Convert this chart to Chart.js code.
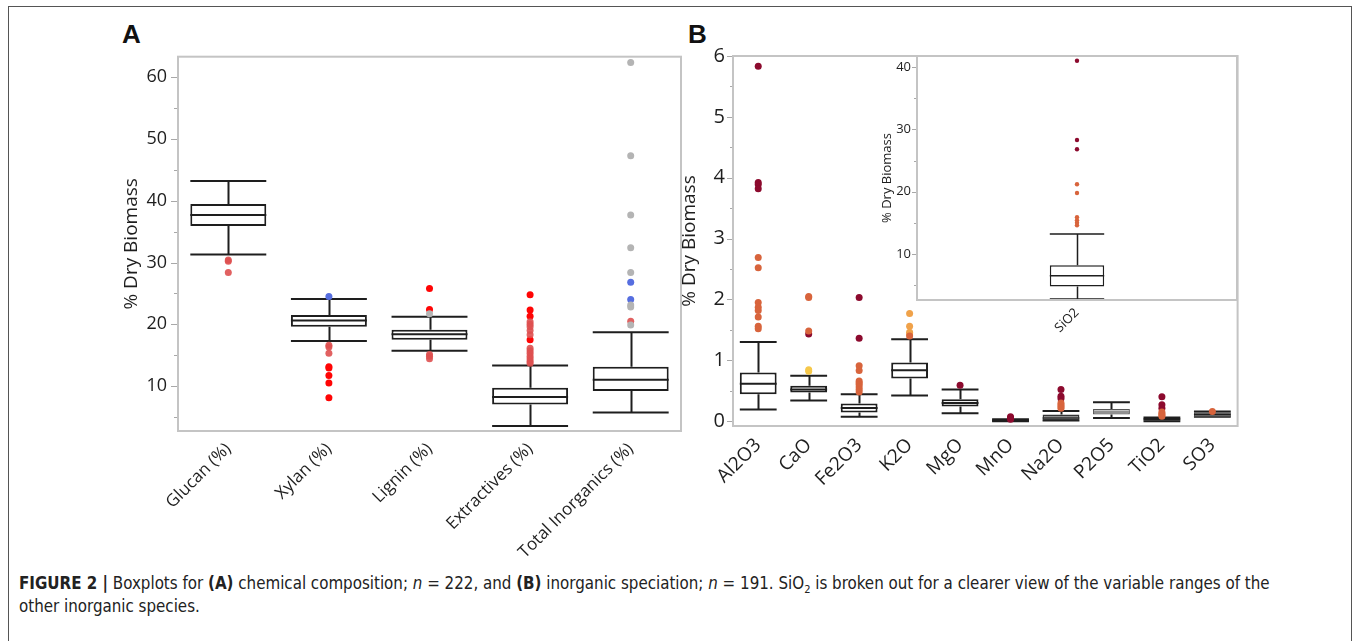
<!DOCTYPE html>
<html>
<head>
<meta charset="utf-8">
<script src="https://cdn.jsdelivr.net/npm/chart.js@4/dist/chart.umd.min.js"></script>
<style>
  html, body { margin: 0; padding: 0; background: #fff; }
  body { width: 1354px; height: 641px; position: relative; overflow: hidden; font-family: "Open Sans", sans-serif; }
  #frame { position: absolute; left: 8px; top: 6px; width: 1344px; height: 660px; border: 1px solid #555; box-sizing: border-box; }
  canvas { position: absolute; }
  .panel { position: absolute; font-family: "Liberation Sans", Arial, sans-serif; font-weight: bold; font-size: 26px; line-height: 26px; color: #111; }
  #caption { position: absolute; left: 19px; top: 572px; font-family: "Liberation Sans Narrow", "DejaVu Sans Condensed", sans-serif; font-size: 16.8px; line-height: 23px; color: #222; white-space: nowrap; }
  #caption sub { font-size: 11px; line-height: 0; }
</style>
</head>
<body>
<div id="frame"></div>
<div class="panel" style="left:122px; top:21px;">A</div>
<div class="panel" style="left:688px; top:21px;">B</div>
<canvas id="chartA" width="600" height="520" style="left:100px; top:40px;"></canvas>
<canvas id="chartB" width="620" height="520" style="left:660px; top:40px;"></canvas>
<canvas id="chartSi" width="400" height="300" style="left:860px; top:40px;"></canvas>
<div id="caption"><b>FIGURE 2 |</b> Boxplots for <b>(A)</b> chemical composition; <i>n</i> = 222, and <b>(B)</b> inorganic speciation; <i>n</i> = 191. SiO<sub>2</sub> is broken out for a clearer view of the variable ranges of the<br>other inorganic species.</div>

<script>
// ---- Panel A: chemical composition (% dry biomass) ----
const catsA = ['Glucan (%)', 'Xylan (%)', 'Lignin (%)', 'Extractives (%)', 'Total Inorganics (%)'];
const lowA  = [31.3, 17.3, 15.7, 3.5, 5.7];
const q1A   = [35.9, 19.6, 17.5, 7.0, 9.2];
const medA  = [37.7, 20.6, 18.4, 8.2, 11.0];
const q3A   = [39.5, 21.5, 19.1, 9.7, 13.1];
const highA = [43.2, 24.1, 21.2, 13.3, 18.7];
// outliers grouped by marker colour class
const outRedA = [['Xylan (%)', 13.1], ['Xylan (%)', 12.9], ['Xylan (%)', 11.7], ['Xylan (%)', 10.5], ['Xylan (%)', 8.1],
  ['Lignin (%)', 25.8], ['Lignin (%)', 22.4],
  ['Extractives (%)', 24.8], ['Extractives (%)', 22.3], ['Extractives (%)', 21.3], ['Extractives (%)', 17.5]];
const outPinkA = [['Glucan (%)', 30.4], ['Glucan (%)', 30.2], ['Glucan (%)', 28.4],
  ['Xylan (%)', 16.6], ['Xylan (%)', 16.3], ['Xylan (%)', 15.3],
  ['Lignin (%)', 15.1], ['Lignin (%)', 14.8], ['Lignin (%)', 14.4],
  ['Extractives (%)', 20.4], ['Extractives (%)', 20.0], ['Extractives (%)', 19.6], ['Extractives (%)', 19.0],
  ['Extractives (%)', 18.3], ['Extractives (%)', 16.1], ['Extractives (%)', 15.7], ['Extractives (%)', 15.3],
  ['Extractives (%)', 14.8], ['Extractives (%)', 14.4], ['Extractives (%)', 14.0], ['Extractives (%)', 13.7],
  ['Total Inorganics (%)', 20.5]];
const outBlueA = [['Xylan (%)', 24.5], ['Total Inorganics (%)', 26.8], ['Total Inorganics (%)', 24.0]];
const outGreyA = [['Lignin (%)', 21.7], ['Total Inorganics (%)', 62.4], ['Total Inorganics (%)', 47.3],
  ['Total Inorganics (%)', 37.7], ['Total Inorganics (%)', 32.4], ['Total Inorganics (%)', 28.4],
  ['Total Inorganics (%)', 23.1], ['Total Inorganics (%)', 22.8], ['Total Inorganics (%)', 19.9]];
const ticksA = [10, 20, 30, 40, 50, 60];

// ---- Panel B: inorganic speciation ----
const catsB = ['Al2O3', 'CaO', 'Fe2O3', 'K2O', 'MgO', 'MnO', 'Na2O', 'P2O5', 'TiO2', 'SO3'];
const lowB  = [0.19, 0.34, 0.07, 0.42, 0.13, 0.00, 0.01, 0.05, 0.00, 0.07];
const q1B   = [0.44, 0.47, 0.14, 0.70, 0.24, 0.005, 0.01, 0.11, 0.01, 0.07];
const medB  = [0.615, 0.52, 0.215, 0.835, 0.30, 0.01, 0.05, 0.15, 0.03, 0.11];
const q3B   = [0.80, 0.58, 0.29, 0.965, 0.36, 0.02, 0.11, 0.20, 0.05, 0.15];
const highB = [1.30, 0.745, 0.44, 1.345, 0.52, 0.03, 0.165, 0.31, 0.06, 0.16];
const outDarkB = [['Al2O3', 5.83], ['Al2O3', 3.92], ['Al2O3', 3.89], ['Al2O3', 3.82],
  ['CaO', 1.43], ['Fe2O3', 2.03], ['Fe2O3', 1.36], ['MgO', 0.59],
  ['MnO', 0.07], ['MnO', 0.05], ['MnO', 0.03],
  ['Na2O', 0.52], ['Na2O', 0.41], ['Na2O', 0.37],
  ['TiO2', 0.40], ['TiO2', 0.27], ['TiO2', 0.21]];
const outOrangeB = [['Al2O3', 2.69], ['Al2O3', 2.52], ['Al2O3', 1.95], ['Al2O3', 1.87], ['Al2O3', 1.82],
  ['Al2O3', 1.71], ['Al2O3', 1.56], ['Al2O3', 1.52],
  ['CaO', 2.05], ['CaO', 2.03], ['CaO', 1.48],
  ['Fe2O3', 0.91], ['Fe2O3', 0.83], ['Fe2O3', 0.66], ['Fe2O3', 0.63], ['Fe2O3', 0.60],
  ['Fe2O3', 0.56], ['Fe2O3', 0.52], ['Fe2O3', 0.48],
  ['K2O', 1.40],
  ['Na2O', 0.30], ['Na2O', 0.27], ['Na2O', 0.24], ['Na2O', 0.21],
  ['TiO2', 0.15], ['TiO2', 0.12], ['TiO2', 0.10], ['TiO2', 0.08],
  ['SO3', 0.16]];
const outAmberB = [['K2O', 1.77], ['K2O', 1.56], ['K2O', 1.46], ['K2O', 1.43]];
const outYellowB = [['CaO', 0.845], ['CaO', 0.82]];
const ticksB = [0, 1, 2, 3, 4, 5, 6];

// ---- SiO2 inset ----
const catsSi = ['SiO2'];
const lowSi = [2.8], q1Si = [4.8], medSi = [6.5], q3Si = [8.2], highSi = [13.2];
const outDarkSi = [['SiO2', 41.0], ['SiO2', 28.3], ['SiO2', 26.8]];
const outOrangeSi = [['SiO2', 21.2], ['SiO2', 19.8], ['SiO2', 15.9], ['SiO2', 15.4], ['SiO2', 15.0], ['SiO2', 14.6]];
const ticksSi = [10, 20, 30, 40];

const INK = '#1e1e1e';

// Whiskers, caps, medians, tick marks and the plot frame for a box-and-whisker chart.
const boxPlot = {
  id: 'boxPlot',
  beforeDraw(chart, args, o) {
    const a = chart.chartArea, ctx = chart.ctx;
    ctx.save();
    ctx.fillStyle = '#fff';
    ctx.fillRect(a.left, a.top, a.right - a.left, a.bottom - a.top);
    ctx.restore();
  },
  beforeDatasetsDraw(chart, args, o) {
    const ctx = chart.ctx, ys = chart.scales.y, meta = chart.getDatasetMeta(0);
    ctx.save();
    ctx.strokeStyle = INK;
    ctx.lineWidth = o.lineWidth;
    meta.data.forEach((bar, i) => {
      const x = Math.round(bar.x) + 0.5, h = bar.width / 2;
      const yl = ys.getPixelForValue(o.low[i]), yh = ys.getPixelForValue(o.high[i]);
      const y1 = ys.getPixelForValue(o.q1[i]), y3 = ys.getPixelForValue(o.q3[i]);
      ctx.beginPath();
      ctx.moveTo(x, yl); ctx.lineTo(x, y1);
      ctx.moveTo(x, y3); ctx.lineTo(x, yh);
      ctx.moveTo(bar.x - h, yl); ctx.lineTo(bar.x + h, yl);
      ctx.moveTo(bar.x - h, yh); ctx.lineTo(bar.x + h, yh);
      ctx.stroke();
    });
    ctx.restore();
  },
  afterDatasetDraw(chart, args, o) {
    if (args.index !== 0) return;
    const ctx = chart.ctx, ys = chart.scales.y;
    ctx.save();
    args.meta.data.forEach((bar, i) => {
      const h = bar.width / 2, y = ys.getPixelForValue(o.med[i]);
      ctx.strokeStyle = o.medianColor ? o.medianColor[i] : INK;
      ctx.lineWidth = o.medianWidth ? o.medianWidth[i] : o.lineWidth;
      ctx.beginPath();
      ctx.moveTo(bar.x - h, y); ctx.lineTo(bar.x + h, y);
      ctx.stroke();
    });
    ctx.restore();
  },
  afterDraw(chart, args, o) {
    const ctx = chart.ctx, a = chart.chartArea, ys = chart.scales.y;
    ctx.save();
    ctx.strokeStyle = '#a8a8a8';
    ctx.lineWidth = 1;
    for (let v = o.minorStart; v <= ys.max + 1e-9; v += o.minorStep) {
      if (v < ys.min) continue;
      const y = Math.round(ys.getPixelForValue(v)) + 0.5;
      const major = Math.abs(v / o.majorStep - Math.round(v / o.majorStep)) < 1e-6;
      const len = major ? o.majorLen : o.minorLen;
      ctx.beginPath();
      ctx.moveTo(a.left - len, y); ctx.lineTo(a.left, y);
      ctx.stroke();
    }
    ctx.strokeStyle = '#c4c4c4';
    ctx.lineWidth = o.frameWidth;
    ctx.strokeRect(a.left, a.top, a.right - a.left, a.bottom - a.top);
    ctx.restore();
  }
};

function outlierSet(pairs, color, radius) {
  return {
    type: 'line', showLine: false, order: 1,
    data: pairs.map(p => ({ x: p[0], y: p[1] })),
    pointRadius: radius, pointHoverRadius: radius,
    pointBackgroundColor: color, pointBorderWidth: 0, borderColor: color
  };
}

function boxChart(id, spec) {
  return new Chart(document.getElementById(id), {
    type: 'bar',
    data: {
      labels: spec.cats,
      datasets: [{
        type: 'bar', order: 2,
        data: spec.q1.map((v, i) => [v, spec.q3[i]]),
        backgroundColor: spec.fills,
        borderColor: spec.edges || INK, borderWidth: spec.edgeWidths || spec.lineWidth, borderSkipped: false,
        barPercentage: spec.barPct, categoryPercentage: 1, grouped: false
      }].concat(spec.outliers)
    },
    options: {
      responsive: false, animation: false, devicePixelRatio: 1,
      layout: { padding: spec.padding },
      plugins: {
        legend: { display: false }, tooltip: { enabled: false },
        boxPlot: {
          low: spec.low, q1: spec.q1, med: spec.med, q3: spec.q3, high: spec.high,
          lineWidth: spec.lineWidth, frameWidth: spec.frameWidth,
          medianColor: spec.medianColor, medianWidth: spec.medianWidth,
          majorStep: spec.majorStep, minorStep: spec.minorStep, minorStart: spec.minorStart,
          majorLen: spec.majorLen, minorLen: spec.minorLen
        }
      },
      scales: {
        x: {
          type: 'category', offset: true,
          grid: { display: false, drawTicks: false }, border: { display: false },
          ticks: { autoSkip: false, minRotation: 45, maxRotation: 45, padding: spec.xPad,
                   font: { family: 'Open Sans', size: spec.xFont }, color: INK },
          afterFit: s => { s.height = spec.xHeight; }
        },
        y: {
          min: spec.min, max: spec.max,
          afterBuildTicks: s => { s.ticks = spec.ticks.map(v => ({ value: v })); },
          grid: { display: false, drawTicks: false }, border: { display: false },
          ticks: { padding: spec.yPad, font: { family: 'Open Sans', size: spec.yFont }, color: INK },
          title: { display: true, text: '% Dry Biomass', color: INK,
                   font: { family: 'Open Sans', size: spec.titleFont, lineHeight: 1.2 },
                   padding: { top: spec.titlePad, bottom: 0 } },
          afterFit: s => { s.width = spec.yWidth; s.paddingTop = 0; s.paddingBottom = 0; }
        }
      }
    },
    plugins: [boxPlot]
  });
}

boxChart('chartA', {
  cats: catsA, low: lowA, q1: q1A, med: medA, q3: q3A, high: highA,
  fills: '#ffffff',
  outliers: [outlierSet(outGreyA, '#b4b4b4', 3.5), outlierSet(outPinkA, 'rgba(222,80,80,0.9)', 3.5),
             outlierSet(outRedA, '#ff0505', 3.5), outlierSet(outBlueA, '#566ee0', 3.5)],
  barPct: 0.755, lineWidth: 2, frameWidth: 2,
  min: 2.71, max: 63.34, ticks: ticksA,
  majorStep: 10, minorStep: 5, minorStart: 5, majorLen: 7, minorLen: 4,
  padding: { top: 16.7, right: 19, left: 0, bottom: 0 },
  yWidth: 78, xHeight: 129, xPad: 8, xFont: 17, yPad: 11, yFont: 18,
  titleFont: 19, titlePad: 20
});

boxChart('chartB', {
  cats: catsB, low: lowB, q1: q1B, med: medB, q3: q3B, high: highB,
  fills: ['#fff', '#fff', '#fff', '#fff', '#fff', '#222', '#8e8e8e', '#bdbdbd', '#111', '#a4a4a4'],
  edges: [INK, INK, INK, INK, INK, INK, '#333', '#555', INK, '#666'],
  edgeWidths: [2, 2, 2, 2, 2, 2, 1.5, 1.2, 2, 1],
  medianColor: [INK, INK, INK, INK, INK, INK, '#333', '#666', INK, INK],
  medianWidth: [2, 2, 2, 2, 2, 2, 1.5, 1.2, 2, 2],
  outliers: [outlierSet(outOrangeB, '#d8643c', 3.5), outlierSet(outAmberB, '#f0a24a', 3.5),
             outlierSet(outYellowB, '#f6c84a', 3.5), outlierSet(outDarkB, '#8c0a2e', 3.5)],
  barPct: 0.73, lineWidth: 2, frameWidth: 2,
  min: -0.08, max: 6.0, ticks: ticksB,
  majorStep: 1, minorStep: 0.5, minorStart: 0, majorLen: 6, minorLen: 3,
  padding: { top: 16, right: 42.4, left: 0, bottom: 0 },
  yWidth: 73, xHeight: 134, xPad: 8, xFont: 19, yPad: 8, yFont: 20,
  titleFont: 19, titlePad: 18.6
});

boxChart('chartSi', {
  cats: catsSi, low: lowSi, q1: q1Si, med: medSi, q3: q3Si, high: highSi,
  fills: '#ffffff',
  outliers: [outlierSet(outOrangeSi, '#d8643c', 2.2), outlierSet(outDarkSi, '#8c0a2e', 2.2)],
  barPct: 0.17, lineWidth: 1.5, frameWidth: 2,
  min: 2.62, max: 41.77, ticks: ticksSi,
  majorStep: 10, minorStep: 5, minorStart: 5, majorLen: 5, minorLen: 3,
  padding: { top: 16, right: 23, left: 0, bottom: 0 },
  yWidth: 57, xHeight: 40, xPad: 5, xFont: 13, yPad: 6, yFont: 13,
  titleFont: 13, titlePad: 19.2
});
</script>
</body>
</html>
